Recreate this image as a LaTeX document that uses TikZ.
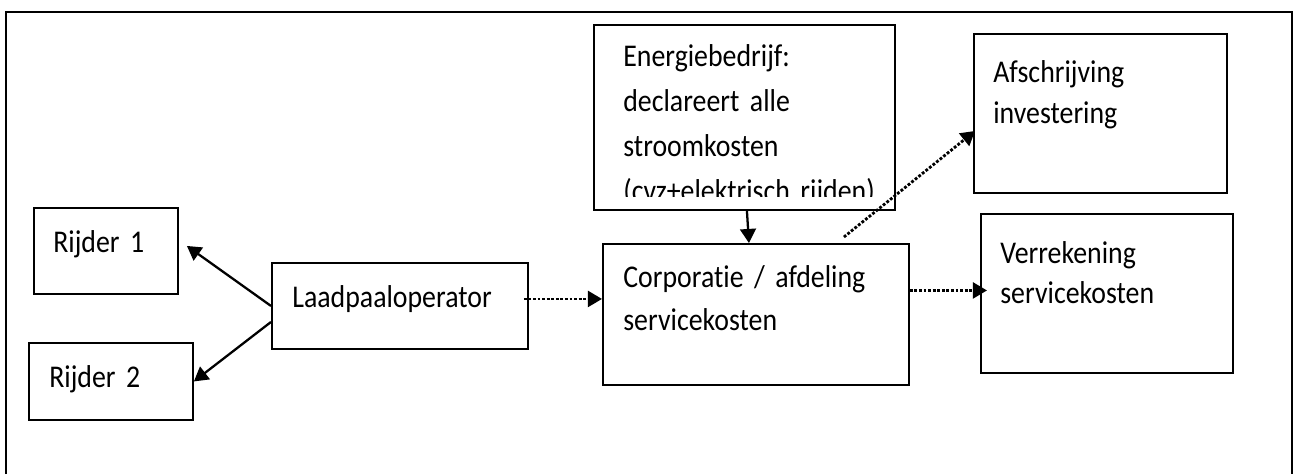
\documentclass[tikz,border=0pt]{standalone}
\usepackage{fontspec}
\setmainfont{Carlito}[FakeStretch=0.88, Ligatures=NoCommon]
\usetikzlibrary{arrows.meta}
\newcommand\tekstfont{\fontsize{18}{23}\selectfont\spaceskip 3.4pt plus 1pt minus 0.5pt\relax}

\begin{document}
\begin{tikzpicture}[x=0.02cm, y=0.02cm, >={Triangle[length=8pt, width=9pt]},
        vak/.style={draw, line width=1.1pt, rectangle, inner sep=0pt, anchor=north west},
        tekst/.style={anchor=base west, inner sep=0pt, align=left, text width=5.6cm,
            font=\tekstfont},
        pijl/.style={->, line width=1.3pt},
        stip/.style={->, line width=1.6pt, densely dotted}]
        \useasboundingbox (0, 0) rectangle (1296, 474);

        % Frame
        \draw[line width=1.1pt] (6, 0) -- (6, 462) -- (1292, 462) -- (1292, 0);

        % Boxes
        \node[vak, minimum width=2.88cm, minimum height=1.72cm] (rij1) at (33, 267) {};
        \node[vak, minimum width=3.28cm, minimum height=1.54cm] (rij2) at (28, 132) {};
        \node[vak, minimum width=5.12cm, minimum height=1.72cm] (laad) at (271, 212) {};
        \node[vak, minimum width=6.12cm, minimum height=2.82cm] (corp) at (602, 231) {};
        \node[vak, minimum width=6.02cm, minimum height=3.70cm] (energ) at (593, 450) {};
        \node[vak, minimum width=5.06cm, minimum height=3.18cm] (afschr) at (973, 441) {};
        \node[vak, minimum width=5.04cm, minimum height=3.18cm] (verrek) at (980, 261) {};

        % Texts
        \node[tekst] at (53, 221) {Rijder 1};
        \node[tekst] at (49, 87) {Rijder 2};
        \node[tekst] at (292, 167) {Laadpaaloperator};
        \node[tekst] at (623, 187) {Corporatie / afdeling\\[1.5pt]servicekosten};
        \begin{scope}
            \clip (593, 277) rectangle (894, 450);
            \node[tekst] at (623, 407)
                {Energiebedrijf:\\[2.6pt]declareert alle\\[2.6pt]stroomkosten\\[2.6pt](cvz+elektrisch rijden)};
        \end{scope}
        \node[tekst] at (993, 391) {Afschrijving\\investering};
        \node[tekst] at (1000, 211) {Verrekening\\servicekosten};

        % Arrows
        \draw[pijl] (laad.west) -- ([shift={(8, 5)}]rij1.east);
        \draw[pijl] ([shift={(0, -16)}]laad.west) -- (rij2.east);
        \draw[pijl] ([shift={(2.5, 0)}]energ.south) -- ([shift={(-7, 0)}]corp.north);
        \coordinate (corpuit) at ([shift={(88, 6)}]corp.north);
        \draw[stip] ([shift={(-5, 7)}]laad.east) -- ([shift={(0, 7)}]laad.east -| corp.west);
        \draw[stip] ([shift={(0, 3)}]verrek.west -| corp.east) -- ([shift={(7, 3)}]verrek.west);
        \draw[stip] (corpuit) -- ([shift={(2, -17.5)}]afschr.west);
    \end{tikzpicture}
\end{document}
